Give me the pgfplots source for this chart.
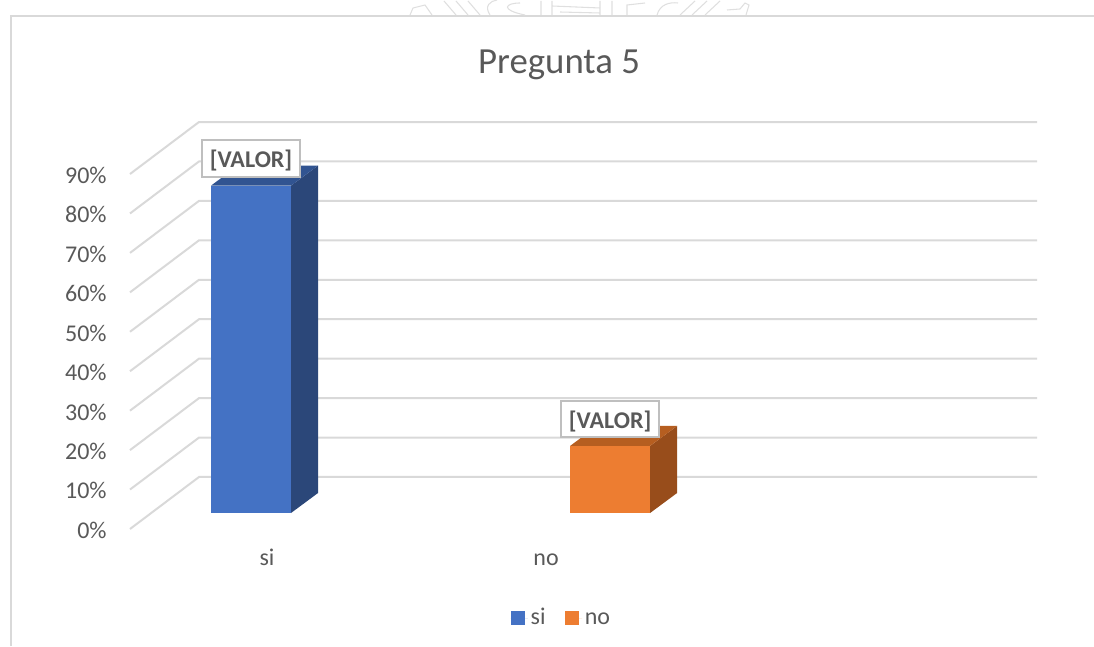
\documentclass[border=0pt]{standalone}
\usepackage{fontspec}
\setmainfont{Carlito}
\usepackage{pgfplots}
\pgfplotsset{compat=1.18}

\definecolor{txt}{HTML}{595959}
\definecolor{gridc}{HTML}{D9D9D9}
\definecolor{boxc}{HTML}{BFBFBF}
\definecolor{blueF}{HTML}{4472C4}
\definecolor{blueS}{HTML}{2B4779}
\definecolor{blueT}{HTML}{315491}
\definecolor{oranF}{HTML}{ED7D31}
\definecolor{oranS}{HTML}{984D1B}
\definecolor{oranT}{HTML}{B65E20}

\pgfplotsset{
  valor/.style={
    nodes near coords={\textbf{[VALOR]}},
    every node near coord/.append style={
      anchor=center, yshift=20.25pt, fill=white, draw=boxc,
      line width=1.5pt, text=txt, font=\fontsize{18}{20}\selectfont,
      minimum width=73.5pt, minimum height=27.5pt, inner sep=0pt,
      text height=18pt, text depth=4pt},
  },
}

\begin{document}
\begin{tikzpicture}
\path[use as bounding box] (0,0) rectangle (820.5pt,484.5pt);

% chart frame and the bit of watermark above it, in image pixels
\begin{scope}[x=0.75pt,y=-0.75pt,yshift=484.5pt]
  \draw[gridc,line width=1.4pt] (11,646) -- (11,16) -- (1094,16);
  \begin{scope}[gridc!85,line width=0.8pt]
    \draw (410,15) -- (413,8) -- (425,5) -- (432,15);
    \draw (444,1) -- (456,15) (456,1) -- (468,15) (468,1) -- (480,15);
    \draw (490,15) .. controls (484,6) and (490,1) .. (497,0);
    \draw (525,15) .. controls (500,10) and (505,3) .. (520,3);
    \draw (541,1) -- (541,15) (552,1) -- (552,15) (552,6) -- (600,8);
    \draw (560,12) -- (600,13) (600,1) -- (600,15);
    \draw (612,15) -- (612,1) (627,15) -- (627,5) -- (645,3);
    \draw (657,15) .. controls (660,4) and (670,2) .. (678,3);
    \draw (680,15) -- (695,1) (692,15) -- (707,1) (705,15) -- (720,1);
    \draw (727,10) -- (740,9) -- (745,3) -- (749,5) -- (746,15);
  \end{scope}
\end{scope}

\begin{axis}[
    at={(97.5pt,99.75pt)}, anchor=south west,
    scale only axis, width=680.25pt, height=266.25pt,
    clip=false,
    xmin=-0.337, xmax=2.189,
    ymin=0, ymax=90,
    axis line style={draw=none},
    major tick length=0pt,
    ytick={0,10,...,90},
    yticklabels={0\%,10\%,20\%,30\%,40\%,50\%,60\%,70\%,80\%,90\%},
    xtick={0.0446,0.8217},
    xticklabels={si,no},
    tick label style={font=\fontsize{18}{20}\selectfont, text=txt},
    yticklabel style={anchor=east, xshift=-14pt, yshift=-13pt},
    xticklabel style={anchor=base, yshift=-39pt},
    title={Pregunta 5},
    title style={at={(0.473,1.239)}, anchor=center, text=txt,
      font=\fontsize{27.6}{30}\selectfont},
    legend columns=2,
    legend style={at={(0.476,-0.296)}, anchor=center, draw=none, fill=none,
      text=txt, font=\fontsize{18}{20}\selectfont,
      nodes={text height=14pt, text depth=4pt},
      /tikz/every even column/.append style={column sep=12.5pt}},
    legend image code/.code={
      \fill (0pt,-5.25pt) rectangle (10.5pt,5.25pt);
      \path (0pt,0pt) -- (13pt,0pt);},
]

% walls: front left, back left, back right
\pgfplotsinvokeforeach{0,10,...,90}{
  \draw[gridc,line width=1.5pt] (axis cs:-0.337,#1-4.057)
    -- (axis cs:-0.1448,#1+9.128) -- (axis cs:2.189,#1+9.128);
}

% si, side and top
\addplot[forget plot,fill=blueS,draw=none] coordinates
  {(0.1114,0)(0.1866,5.07)(0.1866,88.07)(0.1114,83)} -- cycle;
\addplot[forget plot,fill=blueT,draw=none] coordinates
  {(-0.1114,83)(0.1114,83)(0.1866,88.07)(-0.0362,88.07)} -- cycle;
% no, side and top
\addplot[forget plot,fill=oranS,draw=none] coordinates
  {(1.1114,0)(1.1866,5.07)(1.1866,22.07)(1.1114,17)} -- cycle;
\addplot[forget plot,fill=oranT,draw=none] coordinates
  {(0.8886,17)(1.1114,17)(1.1866,22.07)(0.9638,22.07)} -- cycle;

% front faces
\addplot[ybar,bar width=60pt,bar shift=0pt,fill=blueF,draw=none,valor]
  coordinates {(0,83)};
\addlegendentry{si}
\addplot[ybar,bar width=60pt,bar shift=0pt,fill=oranF,draw=none,valor]
  coordinates {(1,17)};
\addlegendentry{no}

\end{axis}
\end{tikzpicture}
\end{document}
